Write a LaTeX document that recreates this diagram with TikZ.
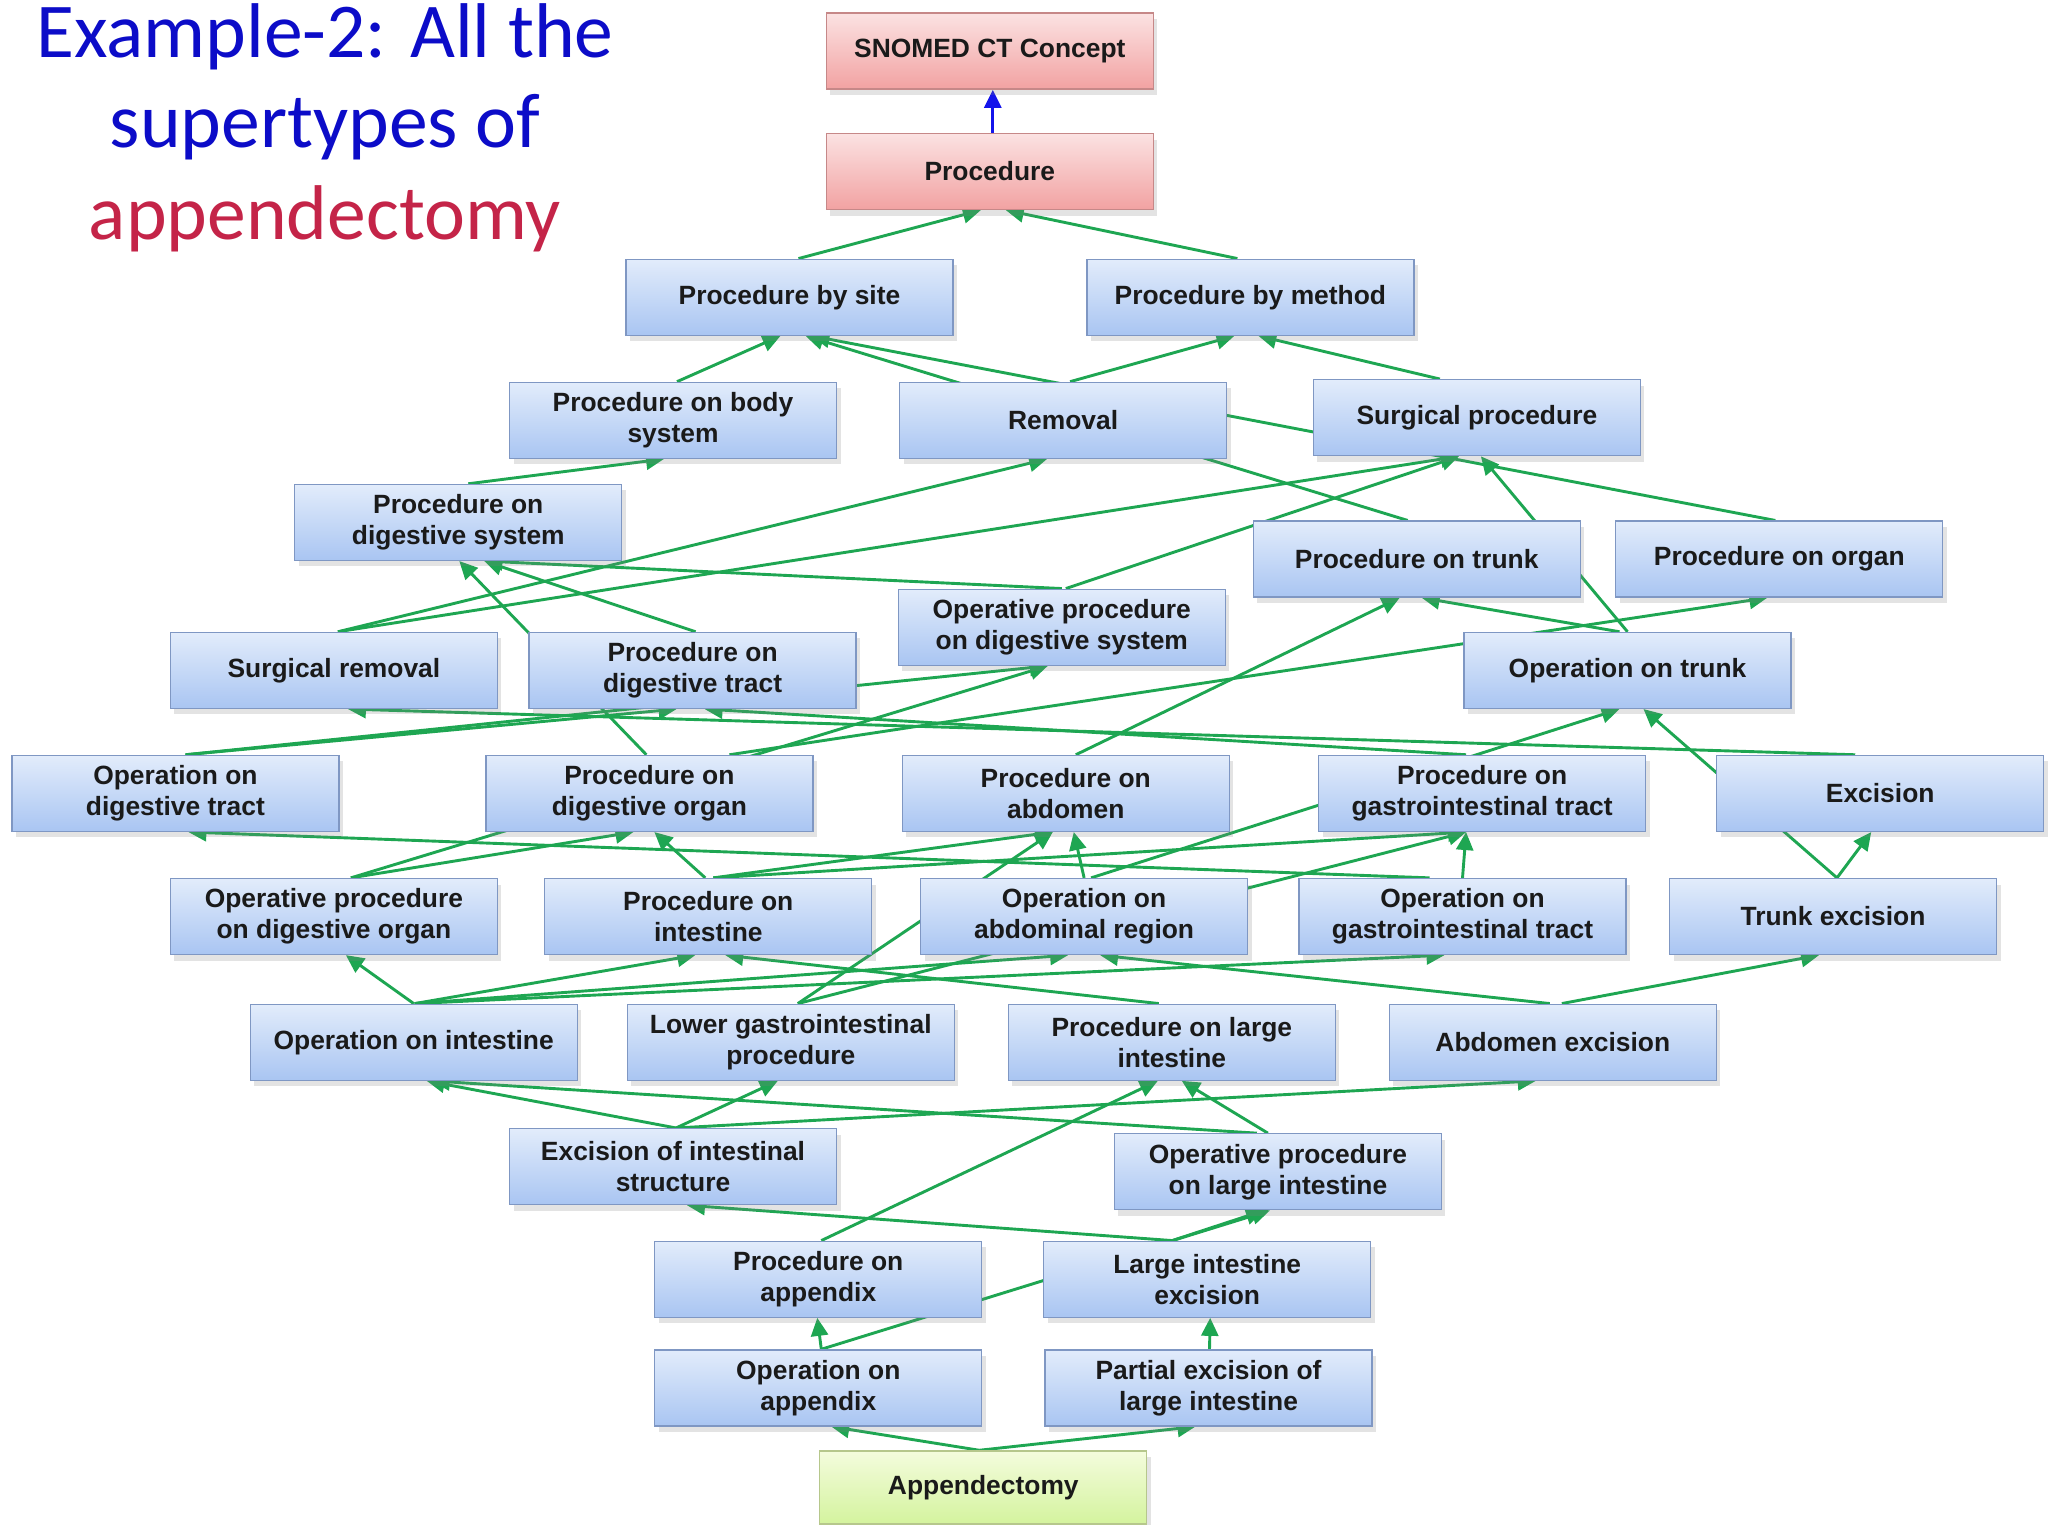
\documentclass[tikz,border=0pt]{standalone}
\usepackage{fontspec}
\setmainfont{Liberation Sans}
\newfontfamily\titlefont{Carlito}
\usetikzlibrary{arrows.meta,shadows}
\pgfdeclarelayer{edges}
\pgfsetlayers{edges,main}

\definecolor{boxtop}{HTML}{E2ECFB}
\definecolor{boxbot}{HTML}{A9C5F2}
\definecolor{boxline}{HTML}{7F97C3}
\definecolor{roottop}{HTML}{FBE2E2}
\definecolor{rootbot}{HTML}{F2A2A2}
\definecolor{rootline}{HTML}{C68888}
\definecolor{focustop}{HTML}{F4FCDD}
\definecolor{focusbot}{HTML}{D4F39E}
\definecolor{focusline}{HTML}{B6C78C}
\definecolor{boxtext}{HTML}{1A1A1A}
\definecolor{edgegreen}{RGB}{30,166,82}
\definecolor{arrowblue}{RGB}{20,20,235}
\definecolor{titleblue}{RGB}{12,12,200}
\definecolor{titlered}{RGB}{196,36,72}

\begin{document}
\begin{tikzpicture}[x=1pt,y=-1pt,
  concept/.style={draw=boxline, line width=1.3pt, top color=boxtop, bottom color=boxbot,
    minimum width=327pt, minimum height=76pt, inner sep=0pt, align=center,
    font=\fontsize{26.4}{31}\selectfont\bfseries, text=boxtext,
    drop shadow={shadow xshift=4pt, shadow yshift=-6pt, opacity=0.22}},
  rootconcept/.style={concept, draw=rootline, top color=roottop, bottom color=rootbot},
  focusconcept/.style={concept, draw=focusline, top color=focustop, bottom color=focusbot, minimum height=73pt},
  isa/.style={draw=edgegreen, line width=2.9pt, -{Triangle[width=17pt,length=18pt]}},
  titleline/.style={anchor=base, font=\titlefont\fontsize{77.6}{92}\selectfont, text=titleblue}
]
\useasboundingbox (0,0) rectangle (2053,1524);

% title
\node[titleline] (title1) at (325,57) {Example-2: All the};
\node[titleline] (title2) at (325,147) {supertypes of};
\node[titleline, text=titlered] (title3) at (325,239) {appendectomy};

% concepts
\node[rootconcept] (SCT) at (989.8,51.1) {SNOMED CT Concept};
\node[rootconcept] (P) at (989.8,171.5) {Procedure};
\node[concept] (PBS) at (789.5,297.2) {Procedure by site};
\node[concept] (PBM) at (1250.4,297.2) {Procedure by method};
\node[concept] (PBSys) at (673.0,420.3) {Procedure on body\\system};
\node[concept] (REM) at (1063.1,420.3) {Removal};
\node[concept] (SP) at (1476.9,417.7) {Surgical procedure};
\node[concept] (PDS) at (458.3,522.4) {Procedure on\\digestive system};
\node[concept] (PT) at (1416.7,559.1) {Procedure on trunk};
\node[concept] (PO) at (1779.3,559.1) {Procedure on organ};
\node[concept] (OPDS) at (1061.8,627.2) {Operative procedure\\on digestive system};
\node[concept] (SR) at (333.9,670.4) {Surgical removal};
\node[concept] (PDT) at (692.6,670.4) {Procedure on\\digestive tract};
\node[concept] (OT) at (1627.5,670.4) {Operation on trunk};
\node[concept] (ODT) at (175.4,793.4) {Operation on\\digestive tract};
\node[concept] (PDO) at (649.4,793.4) {Procedure on\\digestive organ};
\node[concept] (PA) at (1065.8,793.4) {Procedure on\\abdomen};
\node[concept] (PGI) at (1482.1,793.4) {Procedure on\\gastrointestinal tract};
\node[concept] (EXC) at (1880.2,793.4) {Excision};
\node[concept] (OPDO) at (333.9,916.5) {Operative procedure\\on digestive organ};
\node[concept] (PI) at (708.3,916.5) {Procedure on\\intestine};
\node[concept] (OAR) at (1084.1,916.5) {Operation on\\abdominal region};
\node[concept] (OGI) at (1462.5,916.5) {Operation on\\gastrointestinal tract};
\node[concept] (TE) at (1833.0,916.5) {Trunk excision};
\node[concept] (OI) at (413.7,1042.2) {Operation on intestine};
\node[concept] (LGI) at (790.8,1042.2) {Lower gastrointestinal\\procedure};
\node[concept] (PLI) at (1171.8,1042.2) {Procedure on large\\intestine};
\node[concept] (AE) at (1552.8,1042.2) {Abdomen excision};
\node[concept] (EIS) at (673.0,1166.6) {Excision of intestinal\\structure};
\node[concept] (OPLI) at (1277.9,1171.8) {Operative procedure\\on large intestine};
\node[concept] (PAPP) at (818.3,1279.2) {Procedure on\\appendix};
\node[concept] (LIE) at (1207.2,1279.2) {Large intestine\\excision};
\node[concept] (OAPP) at (818.3,1387.9) {Operation on\\appendix};
\node[concept] (PELI) at (1208.5,1387.9) {Partial excision of\\large intestine};
\node[focusconcept] (APP) at (983.3,1487.4) {Appendectomy};

% is-a links, drawn beneath the boxes
\begin{pgfonlayer}{edges}
\draw[isa, draw=arrowblue] ([xshift=3pt]P.north) -- ([xshift=3pt]SCT.south);
\draw[isa] ([xshift=9pt]PBS.north) -- ([xshift=-9pt]P.south);
\draw[isa] ([xshift=-13pt]PBM.north) -- ([xshift=16pt]P.south);
\draw[isa] ([xshift=4pt]PBSys.north) -- ([xshift=-9pt]PBS.south);
\draw[isa] ([xshift=-9pt]PT.north) -- ([xshift=16pt]PBS.south);
\draw[isa] ([xshift=-4pt]PO.north) -- ([xshift=22pt]PBS.south);
\draw[isa] ([xshift=7pt]REM.north) -- ([xshift=-16pt]PBM.south);
\draw[isa] ([xshift=-37pt]SP.north) -- ([xshift=8pt]PBM.south);
\draw[isa] ([xshift=10pt]PDS.north) -- ([xshift=-9pt]PBSys.south);
\draw[isa] ([xshift=4pt]SR.north) -- ([xshift=-16pt]REM.south);
\draw[isa] ([xshift=4pt]SR.north) -- ([xshift=-18pt]SP.south);
\draw[isa] ([xshift=3pt]PDT.north) -- ([xshift=26pt]PDS.south);
\draw[isa] ([xshift=-3pt]PDO.north) -- ([xshift=1pt]PDS.south);
\draw[isa] (OPDS.north) -- ([xshift=26pt]PDS.south);
\draw[isa] ([xshift=4pt]OPDS.north) -- ([xshift=-18pt]SP.south);
\draw[isa] (OT.north) -- ([xshift=4pt]SP.south);
\draw[isa] ([xshift=-8pt]OT.north) -- ([xshift=5pt]PT.south);
\draw[isa] ([xshift=10pt]PA.north) -- ([xshift=-17pt]PT.south);
\draw[isa] ([xshift=80pt]PDO.north) -- ([xshift=-12pt]PO.south);
\draw[isa] ([xshift=17pt]OPDO.north) -- ([xshift=-14pt]OPDS.south);
\draw[isa] ([xshift=10pt]ODT.north) -- ([xshift=-16pt]PDT.south);
\draw[isa] ([xshift=10pt]ODT.north) -- ([xshift=-14pt]OPDS.south);
\draw[isa] ([xshift=-16pt]PGI.north) -- ([xshift=12pt]PDT.south);
\draw[isa] ([xshift=-25pt]EXC.north) -- ([xshift=14pt]SR.south);
\draw[isa] ([xshift=4pt]TE.north) -- ([xshift=16pt]OT.south);
\draw[isa] ([xshift=4pt]TE.north) -- ([xshift=-9pt]EXC.south);
\draw[isa] ([xshift=7pt]OAR.north) -- ([xshift=-8pt]OT.south);
\draw[isa] ([xshift=-33pt]OGI.north) -- ([xshift=13pt]ODT.south);
\draw[isa] (OGI.north) -- ([xshift=-16pt]PGI.south);
\draw[isa] ([xshift=17pt]OPDO.north) -- ([xshift=-16pt]PDO.south);
\draw[isa] ([xshift=-3pt]PI.north) -- ([xshift=5pt]PDO.south);
\draw[isa] ([xshift=5pt]PI.north) -- ([xshift=-16pt]PGI.south);
\draw[isa] ([xshift=5pt]PI.north) -- ([xshift=-13pt]PA.south);
\draw[isa] ([xshift=7pt]LGI.north) -- ([xshift=-13pt]PA.south);
\draw[isa] (OAR.north) -- ([xshift=8pt]PA.south);
\draw[isa] ([xshift=7pt]LGI.north) -- ([xshift=-16pt]PGI.south);
\draw[isa] (OI.north) -- ([xshift=12pt]OPDO.south);
\draw[isa] ([xshift=1pt]OI.north) -- ([xshift=-13pt]PI.south);
\draw[isa] ([xshift=1pt]OI.north) -- ([xshift=-16pt]OAR.south);
\draw[isa] ([xshift=1pt]OI.north) -- ([xshift=-18pt]OGI.south);
\draw[isa] ([xshift=-13pt]PLI.north) -- ([xshift=17pt]PI.south);
\draw[isa] ([xshift=-3pt]AE.north) -- ([xshift=16pt]OAR.south);
\draw[isa] ([xshift=9pt]AE.north) -- ([xshift=-14pt]TE.south);
\draw[isa] ([xshift=3pt]EIS.north) -- ([xshift=13pt]OI.south);
\draw[isa] ([xshift=3pt]EIS.north) -- ([xshift=-13pt]LGI.south);
\draw[isa] ([xshift=3pt]EIS.north) -- ([xshift=-17pt]AE.south);
\draw[isa] ([xshift=-10pt]OPLI.north) -- ([xshift=10pt]PLI.south);
\draw[isa] ([xshift=-21pt]OPLI.north) -- ([xshift=18pt]OI.south);
\draw[isa] ([xshift=3pt]PAPP.north) -- ([xshift=-14pt]PLI.south);
\draw[isa] ([xshift=-35pt]LIE.north) -- ([xshift=14pt]EIS.south);
\draw[isa] ([xshift=-35pt]LIE.north) -- ([xshift=-14pt]OPLI.south);
\draw[isa] ([xshift=3pt]OAPP.north) -- ([xshift=-1pt]PAPP.south);
\draw[isa] ([xshift=3pt]OAPP.north) -- ([xshift=-8pt]OPLI.south);
\draw[isa] ([xshift=1pt]PELI.north) -- ([xshift=3pt]LIE.south);
\draw[isa] ([xshift=-4pt]APP.north) -- ([xshift=13pt]OAPP.south);
\draw[isa] ([xshift=-4pt]APP.north) -- ([xshift=-13pt]PELI.south);
\end{pgfonlayer}
\end{tikzpicture}
\end{document}
